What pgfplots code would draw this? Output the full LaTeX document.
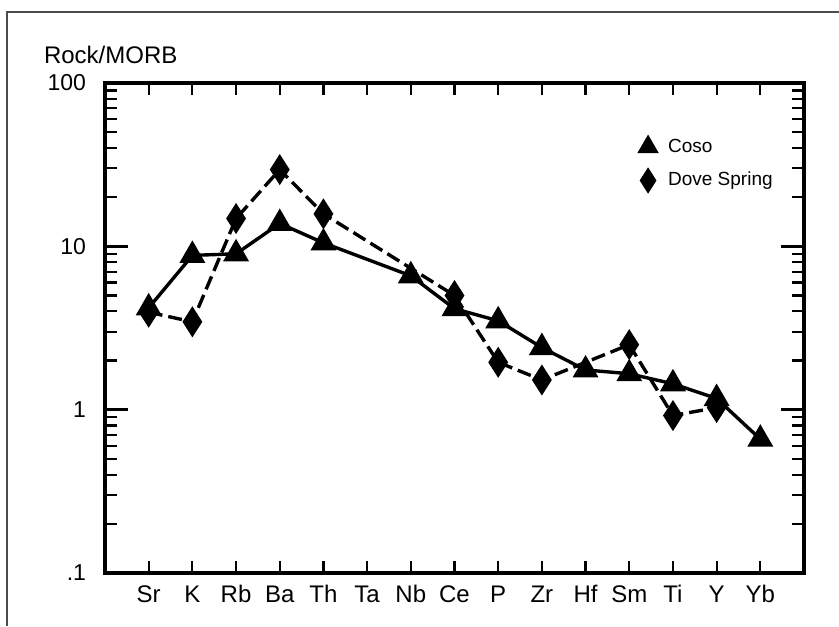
\documentclass[border=0pt]{standalone}
\usepackage{pgfplots}
\pgfplotsset{compat=1.18}
\usepackage{fontspec}
\setmainfont{Liberation Sans}
\begin{document}
\begin{tikzpicture}
\useasboundingbox (0,0) rectangle (419.5pt,313pt);
\draw[line width=1pt, black!70] (3.5pt,0pt) -- (3.5pt,307pt) -- (419.5pt,307pt);
\begin{axis}[
  at={(52.5pt,26.5pt)}, anchor=south west,
  scale only axis, width=349.5pt, height=245pt,
  ymode=log, ymin=0.1, ymax=100, xmin=-1, xmax=15,
  axis line style={line width=1.8pt},
  xtick={0,...,14},
  xticklabels={Sr,K,Rb,Ba,Th,Ta,Nb,Ce,P,Zr,Hf,Sm,Ti,Y,Yb},
  minor xtick={0,...,14},
  major x tick style={draw=none},
  ytick={0.1,1,10,100}, yticklabels={.1,1,10,100},
  minor ytick={0.2,0.3,0.4,0.5,0.6,0.7,0.8,0.9,2,3,4,5,6,7,8,9,20,30,40,50,60,70,80,90},
  major tick length=11.5pt, minor tick length=6pt,
  major tick style={line width=1.2pt, black},
  minor tick style={line width=1.1pt, black},
  tick label style={font=\fontsize{12}{14}\selectfont},
  /pgf/number format/assume math mode=true,
  yticklabel style={xshift=-6pt, font=\fontsize{11.5}{14}\selectfont},
  xticklabel style={anchor=base, yshift=-14.5pt},
  legend style={draw=none, fill=none, at={(rel axis cs:0.762,0.895)}, anchor=north west,
    font=\fontsize{9.5}{12}\selectfont, row sep=4.5pt, inner sep=0pt,
    nodes={inner sep=2pt},
    /tikz/every odd column/.append style={column sep=3pt}},
  legend cell align=left,
  clip=false,
]
\addplot[line width=1.7pt, mark=triangle*, mark size=5.8pt, forget plot] coordinates {
(0,4.2) (1,8.8) (2,9.0) (3,13.8) (4,10.5) (6,6.6) (7,4.15) (8,3.5) (9,2.4) (10,1.75) (11,1.66) (12,1.44) (13,1.17) (14,0.66)};
\addplot[line width=1.7pt, dash pattern=on 7pt off 3pt, mark=diamond*, mark size=6.2pt, mark options={solid, xscale=0.85}, forget plot] coordinates {
(0,3.95) (1,3.45) (2,14.8) (3,29.5) (4,15.8) (7,5.0) (8,1.95) (9,1.52) (11,2.5) (12,0.92) (13,1.03)};
\addlegendimage{only marks, mark=triangle*, mark size=5.8pt}
\addlegendentry{Coso}
\addlegendimage{only marks, mark=diamond*, mark size=6.2pt, mark options={xscale=0.85}}
\addlegendentry{Dove Spring}
\node[anchor=base west, font=\fontsize{12}{14}\selectfont] at (rel axis cs:-0.0973,1.039) {Rock/MORB};
\end{axis}
\end{tikzpicture}
\end{document}
